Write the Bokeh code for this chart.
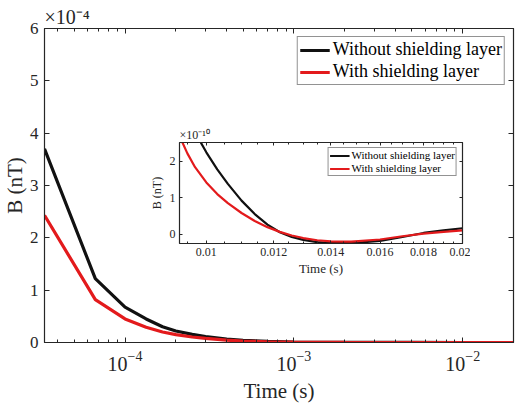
from bokeh.plotting import figure
from bokeh.models import (LogAxis, LinearAxis, FixedTicker, Legend, LegendItem,
                          CustomJSTickFormatter, Range1d, Title)
from bokeh.layouts import column
from bokeh.embed import file_html
from bokeh.resources import INLINE

FONT = "Liberation Serif"
AX = "#262626"
BLACK = "#111111"
RED = "#e31a1c"

# ---------------- data (main plot, B in units of 1e-4 nT) ----------------
time_s = [3.333e-5, 6.667e-5, 1.0e-4, 1.333e-4, 1.667e-4, 2.0e-4, 2.5e-4, 3.0e-4,
          4.0e-4, 5.0e-4, 7.0e-4, 1.0e-3, 2.0e-3, 5.0e-3, 1.0e-2, 2.0e-2]
b_without_e4 = [3.70, 1.22, 0.675, 0.45, 0.30, 0.22, 0.155, 0.115,
                0.065, 0.042, 0.020, 0.009, 0.002, 0.0005, 0.0, 0.0]
b_with_e4 = [2.43, 0.82, 0.45, 0.29, 0.20, 0.15, 0.105, 0.08,
             0.045, 0.028, 0.013, 0.006, 0.001, 0.0003, 0.0, 0.0]
main_yticks = [0, 1, 2, 3, 4, 5, 6]

# ---------------- data (inset, B in units of 1e-10 nT) ----------------
inset_time_s = [0.0093, 0.0095, 0.0097, 0.0100, 0.0103, 0.0106, 0.0110, 0.0114,
                0.0118, 0.0122, 0.0126, 0.0130, 0.0135, 0.0140, 0.0148, 0.0160,
                0.0170, 0.0180, 0.0190, 0.0200]
inset_without_e10 = [3.60, 3.20, 2.80, 2.25, 1.78, 1.38, 0.92, 0.55,
                     0.26, 0.05, -0.08, -0.16, -0.22, -0.25, -0.25, -0.19,
                     -0.08, 0.03, 0.10, 0.16]
inset_with_e10 = [2.70, 2.22, 1.84, 1.42, 1.10, 0.85, 0.58, 0.36,
                  0.19, 0.06, -0.04, -0.11, -0.17, -0.20, -0.21, -0.15,
                  -0.06, 0.01, 0.06, 0.10]
inset_xticks = [0.01, 0.012, 0.014, 0.016, 0.018, 0.02]
inset_xminor = [0.0095, 0.0100, 0.0105, 0.0110, 0.0115, 0.0120, 0.0125, 0.0130,
                0.0135, 0.0140, 0.0145, 0.0150, 0.0155, 0.0160, 0.0165, 0.0170,
                0.0175, 0.0180, 0.0185, 0.0190, 0.0195, 0.0200]
inset_yticks = [0, 1, 2]

labels = ["Without shielding layer", "With shielding layer"]


def style_axis(ax, font_size, label_size, show_labels=True, minor=True):
    ax.axis_line_color = AX
    ax.axis_line_width = 1.2
    ax.major_tick_line_color = AX
    ax.major_tick_in = 5
    ax.major_tick_out = 0
    ax.minor_tick_line_color = AX if minor else None
    ax.minor_tick_in = 3
    ax.minor_tick_out = 0
    ax.major_label_text_font = FONT
    ax.major_label_text_color = AX
    ax.major_label_text_font_size = font_size
    ax.axis_label_text_font = FONT
    ax.axis_label_text_font_style = "normal"
    ax.axis_label_text_color = AX
    ax.axis_label_text_font_size = label_size
    if not show_labels:
        ax.major_label_text_font_size = "0px"
        ax.major_label_text_color = None
        ax.major_label_standoff = 0


def style_title(t, size):
    t.text_font = FONT
    t.text_font_style = "normal"
    t.text_color = AX
    t.text_font_size = size


# ================= main figure =================
main = figure(width=521, height=407, x_axis_type="log",
              x_range=Range1d(3.333e-5, 2e-2), y_range=Range1d(0, 6),
              output_backend="svg", toolbar_location=None,
              min_border_left=42, min_border_right=0, min_border_top=28,
              min_border_bottom=65)
main.grid.visible = False
main.outline_line_color = AX
main.background_fill_color = "white"
main.border_fill_color = "white"

r1 = main.line(time_s, b_without_e4, line_color=BLACK, line_width=3.2)
r2 = main.line(time_s, b_with_e4, line_color=RED, line_width=3.2)

xt = main.xaxis[0].ticker
style_axis(main.xaxis[0], "20px", "21px")
main.xaxis[0].axis_label = "Time (s)"
main.xaxis[0].major_label_standoff = 8
main.xaxis[0].axis_label_standoff = 5

main.yaxis[0].ticker = FixedTicker(ticks=main_yticks)
style_axis(main.yaxis[0], "17px", "21px", minor=False)
main.yaxis[0].major_label_standoff = 6

ylab = Title(text="B (nT)", align="center", offset=30, standoff=0)
style_title(ylab, "21px")
main.add_layout(ylab, "left")

top_ax = LogAxis(ticker=xt)
style_axis(top_ax, "17px", "21px", show_labels=False)
main.add_layout(top_ax, "above")
right_ax = LinearAxis(ticker=FixedTicker(ticks=main_yticks))
style_axis(right_ax, "17px", "21px", show_labels=False, minor=False)
main.add_layout(right_ax, "right")

main.title.text = "×10⁻⁴"
main.title.align = "left"
main.title.offset = 0
main.title.standoff = 2
style_title(main.title, "20px")

leg = Legend(items=[LegendItem(label=labels[0], renderers=[r1]),
                    LegendItem(label=labels[1], renderers=[r2])],
             location="top_right")
leg.label_text_font = FONT
leg.label_text_font_size = "18px"
leg.label_text_color = "black"
leg.glyph_width = 30
leg.glyph_height = 20
leg.label_height = 20
leg.label_standoff = 3
leg.spacing = 1
leg.padding = 2
leg.margin = 8
leg.border_line_color = AX
leg.border_line_width = 1
leg.background_fill_alpha = 1
main.add_layout(leg)

# ================= inset figure =================
inset = figure(width=335, height=159, x_axis_type="log",
               x_range=Range1d(0.0093, 0.02), y_range=Range1d(-0.26, 2.52),
               output_backend="svg", toolbar_location=None,
               min_border_left=40, min_border_right=8, min_border_top=20,
               min_border_bottom=38,
               styles={"position": "absolute", "left": "135px", "top": "122px"})
inset.grid.visible = False
inset.outline_line_color = AX
inset.border_fill_color = "white"

s1 = inset.line(inset_time_s, inset_without_e10, line_color=BLACK, line_width=2.2)
s2 = inset.line(inset_time_s, inset_with_e10, line_color=RED, line_width=2.2)

ixt = FixedTicker(ticks=inset_xticks, minor_ticks=inset_xminor)
inset.xaxis[0].ticker = ixt
inset.xaxis[0].formatter = CustomJSTickFormatter(code="return tick.toString();")
style_axis(inset.xaxis[0], "12px", "13px")
inset.xaxis[0].major_tick_in = 3
inset.xaxis[0].minor_tick_in = 2
inset.xaxis[0].axis_label = "Time (s)"
inset.xaxis[0].major_label_standoff = 4
inset.xaxis[0].axis_label_standoff = 2

iyt = FixedTicker(ticks=inset_yticks)
inset.yaxis[0].ticker = iyt
style_axis(inset.yaxis[0], "12px", "12px", minor=False)
inset.yaxis[0].major_tick_in = 3
inset.yaxis[0].axis_label = "B (nT)"
inset.yaxis[0].major_label_standoff = 4
inset.yaxis[0].axis_label_standoff = 3

itop = LogAxis(ticker=ixt)
style_axis(itop, "12px", "12px", show_labels=False)
itop.major_tick_in = 3
itop.minor_tick_in = 2
inset.add_layout(itop, "above")
iright = LinearAxis(ticker=iyt)
style_axis(iright, "12px", "12px", show_labels=False, minor=False)
iright.major_tick_in = 3
inset.add_layout(iright, "right")

inset.title.text = "×10⁻¹⁰"
inset.title.align = "left"
inset.title.offset = 0
inset.title.standoff = 1
style_title(inset.title, "12px")

ileg = Legend(items=[LegendItem(label=labels[0], renderers=[s1]),
                     LegendItem(label=labels[1], renderers=[s2])],
              location="top_right")
ileg.label_text_font = FONT
ileg.label_text_font_size = "11px"
ileg.label_text_color = "black"
ileg.glyph_width = 20
ileg.glyph_height = 11
ileg.label_height = 11
ileg.label_standoff = 2
ileg.spacing = 1
ileg.padding = 1
ileg.margin = 5
ileg.border_line_color = AX
ileg.border_line_width = 1
inset.add_layout(ileg)

layout = column(main, inset)
open("out.html", "w").write(file_html(layout, INLINE))
